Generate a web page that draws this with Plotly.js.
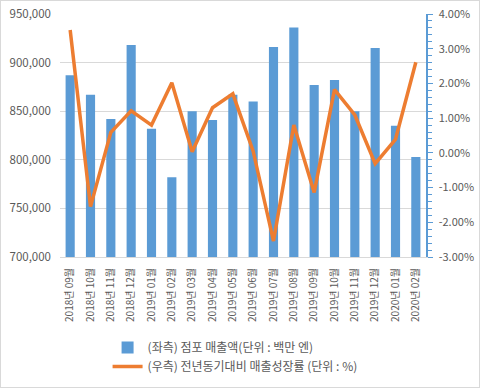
<!DOCTYPE html>
<html><head><meta charset="utf-8">
<script src="https://cdn.plot.ly/plotly-3.0.1.min.js"></script>
<style>html,body{margin:0;padding:0;background:#fff}#c{width:478px;height:386px;border:1px solid #d9d9d9}</style>
</head><body><div id="c"></div>
<script>
const months = ["2018년 09월","2018년 10월","2018년 11월","2018년 12월","2019년 01월","2019년 02월","2019년 03월","2019년 04월","2019년 05월","2019년 06월","2019년 07월","2019년 08월","2019년 09월","2019년 10월","2019년 11월","2019년 12월","2020년 01월","2020년 02월"];
const sales = [887000,867000,842000,918000,832000,782000,850000,841000,867000,860000,916000,936000,877000,882000,850000,915000,835000,803000];
const growth = [3.54,-1.55,0.59,1.21,0.8,2.02,0.03,1.3,1.7,0.05,-2.54,0.8,-1.14,1.82,1.09,-0.31,0.39,2.61];
const leftTicks = [700000,750000,800000,850000,900000,950000];
const rightTicks = [-3,-2,-1,0,1,2,3,4];
const rightTickText = ["-3.00%","-2.00%","-1.00%","0.00%","1.00%","2.00%","3.00%","4.00%"];
const seriesNames = ["(좌측) 점포 매출액(단위 : 백만 엔)","(우측) 전년동기대비 매출성장률 (단위 : %)"];

const font = {family:"'Noto Sans CJK KR', 'Noto Sans', sans-serif", size:11, color:"#595959"};
const data = [
  {type:"bar", x:months, y:sales, name:seriesNames[0], marker:{color:"#5b9bd5"}, yaxis:"y"},
  {type:"scatter", mode:"lines", x:months, y:growth, name:seriesNames[1], line:{color:"#ed7d31", width:3.5}, yaxis:"y2"}
];
const layout = {
  width:478, height:386,
  margin:{l:59, r:53, t:13, b:130},
  paper_bgcolor:"#fff", plot_bgcolor:"#fff",
  font:font,
  bargap:0.55,
  showlegend:true,
  legend:{orientation:"v", xref:"paper", yref:"container", x:0.13, xanchor:"left", y:0.14, yanchor:"top", font:{family:font.family, size:12, color:"#595959"}, tracegroupgap:4},
  xaxis:{type:"category", automargin:false, tickangle:-90, tickfont:{size:10, color:"#595959"}, showline:true, linecolor:"#d9d9d9", ticks:"", showgrid:false, ticklabelstandoff:6},
  yaxis:{range:[700000,950000], automargin:false, tickvals:leftTicks, tickformat:",d", gridcolor:"#d9d9d9", zeroline:false, showline:false, ticks:"", tickfont:{size:11.5}, ticklabelstandoff:8},
  yaxis2:{overlaying:"y", side:"right", automargin:false, range:[-3,4], tickvals:rightTicks, ticktext:rightTickText, showgrid:false, zeroline:false, showline:true, linecolor:"#5b9bd5", linewidth:1.5, ticks:"outside", ticklen:5, tickcolor:"#5b9bd5", minor:{dtick:0.2, ticks:"outside", ticklen:4, tickcolor:"#5b9bd5"}, tickfont:{size:11}, ticklabelstandoff:4}
};
Plotly.newPlot("c", data, layout, {displayModeBar:false, staticPlot:true});
</script></body></html>
